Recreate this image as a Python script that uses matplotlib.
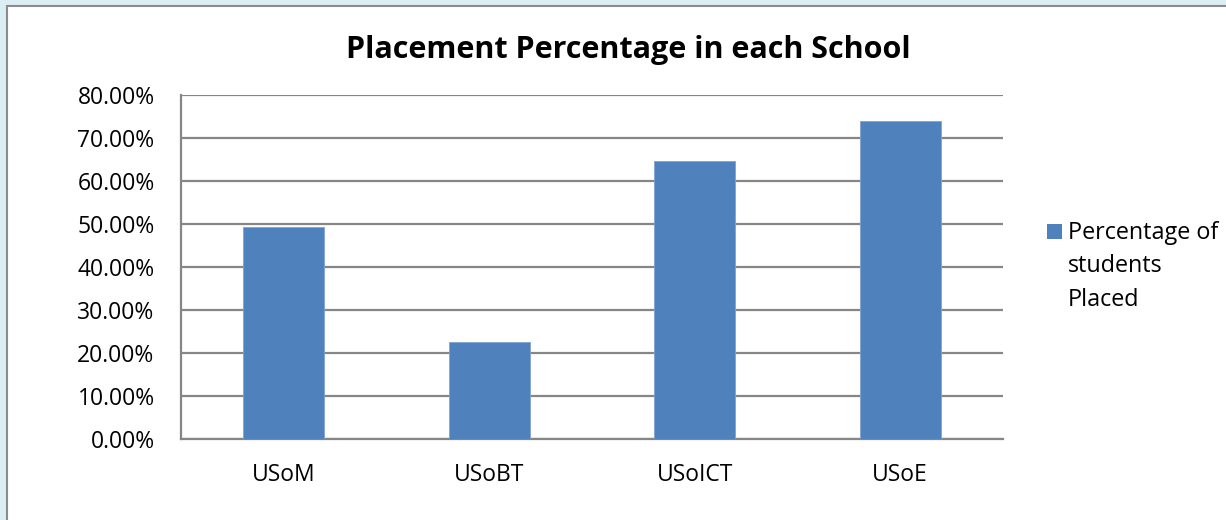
import matplotlib
matplotlib.use("Agg")
import matplotlib.pyplot as plt
from matplotlib.patches import Rectangle
from matplotlib.ticker import FuncFormatter, MultipleLocator

categories = ["USoM", "USoBT", "USoICT", "USoE"]
placed_pct = [49.4, 22.6, 64.7, 74.0]
series_label = "Percentage of\nstudents\nPlaced"
title = "Placement Percentage in each School"

plt.rcParams['font.family'] = ['Open Sans', 'DejaVu Sans']

W, H = 1226, 520
fig = plt.figure(figsize=(W / 100, H / 100), dpi=100)
fig.patch.set_facecolor("#DBEEF4")

# white chart area with gray border (right/bottom edges run off the image)
fig.add_artist(Rectangle((7 / W, -0.1), 1.2, 1.1 - 6 / H, transform=fig.transFigure,
                         facecolor="white", edgecolor="#8C8C8C", linewidth=1.5, zorder=0))

ax = fig.add_axes([181 / W, 1 - 439 / H, (1003 - 181) / W, (439 - 95) / H])
ax.set_facecolor("white")
bar_color = "#4F81BD"
x = range(len(categories))
ax.bar(x, placed_pct, width=0.395, color=bar_color, edgecolor="#7FA3D0", linewidth=0.6, zorder=3)

ax.set_xlim(-0.5, len(categories) - 0.5)
ax.set_ylim(0, 80)
ax.yaxis.set_major_locator(MultipleLocator(10))
ax.yaxis.set_major_formatter(FuncFormatter(lambda v, p: f"{v:.2f}%"))
ax.set_xticks(list(x))
ax.set_xticklabels(categories)
ax.grid(axis="y", color="#868686", linewidth=1.6, zorder=1)
ax.set_axisbelow(True)
for s in ["top", "right"]:
    ax.spines[s].set_visible(False)
for s in ["left", "bottom"]:
    ax.spines[s].set_color("#868686")
    ax.spines[s].set_linewidth(1.6)
ax.tick_params(axis="both", length=0, labelsize=16.5, colors="black")
ax.tick_params(axis="y", pad=19)
ax.tick_params(axis="x", pad=17)

fig.text(628 / W, 1 - 50 / H, title, ha="center", va="center", fontsize=22, fontweight="bold")

# legend
fig.add_artist(Rectangle((1047 / W, 1 - 239 / H), 15 / W, 15 / H, transform=fig.transFigure,
                         facecolor=bar_color, edgecolor="none"))
fig.text(1068 / W, 1 - 221 / H, series_label, ha="left", va="top", fontsize=16.8, linespacing=1.52)

fig.savefig("out.png", dpi=100, facecolor=fig.get_facecolor())
